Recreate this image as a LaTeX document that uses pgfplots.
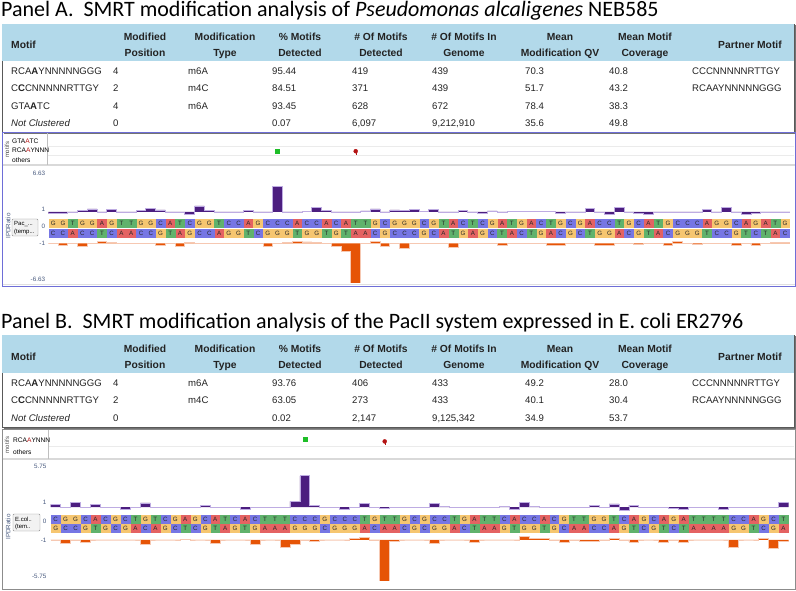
\documentclass[border=0pt]{standalone}
\usepackage{pgfplots}
\pgfplotsset{compat=1.18}
\usepackage{pgfplotstable}
\usepgfplotslibrary{fillbetween}
\usepackage{fontspec}
\setmainfont{Liberation Sans}
\newfontfamily\titlefont{Carlito}

\definecolor{cA}{RGB}{228,98,98}
\definecolor{cC}{RGB}{118,118,228}
\definecolor{cG}{RGB}{246,198,112}
\definecolor{cT}{RGB}{96,178,108}
\definecolor{pdark}{RGB}{76,30,128}
\definecolor{plight}{RGB}{190,172,226}
\definecolor{odark}{RGB}{230,84,6}
\definecolor{olight}{RGB}{246,200,178}
\definecolor{hdr}{RGB}{178,217,234}
\definecolor{tickc}{RGB}{70,88,125}
\definecolor{txt}{RGB}{35,35,35}
\definecolor{frameA}{RGB}{110,110,215}
\definecolor{frameB}{RGB}{140,140,140}
\definecolor{mgreen}{RGB}{30,190,40}
\definecolor{mred}{RGB}{180,20,20}

% ---------- sequences: cell index, base code of top strand, base code of bottom strand
% base codes: 1 = A, 2 = C, 3 = G, 4 = T
\pgfplotstableread[row sep=\\]{
i nt nb\\
0 3 2\\1 3 2\\2 4 1\\3 3 2\\4 3 2\\5 1 4\\6 3 2\\7 4 1\\8 4 1\\9 3 2\\
10 3 2\\11 2 3\\12 1 4\\13 4 1\\14 2 3\\15 3 2\\16 3 2\\17 4 1\\18 2 3\\19 2 3\\
20 1 4\\21 3 2\\22 2 3\\23 2 3\\24 2 3\\25 1 4\\26 2 3\\27 2 3\\28 1 4\\29 2 3\\
30 1 4\\31 4 1\\32 4 1\\33 3 2\\34 2 3\\35 3 2\\36 3 2\\37 3 2\\38 2 3\\39 3 2\\
40 4 1\\41 1 4\\42 2 3\\43 4 1\\44 2 3\\45 3 2\\46 1 4\\47 4 1\\48 3 2\\49 1 4\\
50 2 3\\51 4 1\\52 3 2\\53 2 3\\54 3 2\\55 1 4\\56 2 3\\57 2 3\\58 4 1\\59 3 2\\
60 2 3\\61 1 4\\62 4 1\\63 3 2\\64 2 3\\65 2 3\\66 2 3\\67 1 4\\68 3 2\\69 3 2\\
70 2 3\\71 1 4\\72 3 2\\73 1 4\\74 4 1\\75 3 2\\
}\seqA
\pgfplotstableread[row sep=\\]{
i nt nb\\
0 2 3\\1 3 2\\2 3 2\\3 2 3\\4 1 4\\5 2 3\\6 3 2\\7 2 3\\8 4 1\\9 3 2\\
10 4 1\\11 2 3\\12 3 2\\13 1 4\\14 3 2\\15 2 3\\16 1 4\\17 4 1\\18 2 3\\19 1 4\\
20 2 3\\21 4 1\\22 4 1\\23 4 1\\24 2 3\\25 2 3\\26 2 3\\27 3 2\\28 2 3\\29 2 3\\
30 2 3\\31 4 1\\32 3 2\\33 4 1\\34 4 1\\35 3 2\\36 2 3\\37 3 2\\38 2 3\\39 2 3\\
40 4 1\\41 3 2\\42 1 4\\43 4 1\\44 4 1\\45 2 3\\46 1 4\\47 2 3\\48 2 3\\49 1 4\\
50 2 3\\51 3 2\\52 4 1\\53 4 1\\54 3 2\\55 3 2\\56 4 1\\57 2 3\\58 1 4\\59 3 2\\
60 2 3\\61 1 4\\62 3 2\\63 1 4\\64 4 1\\65 4 1\\66 4 1\\67 4 1\\68 2 3\\69 2 3\\
70 1 4\\71 3 2\\72 2 3\\73 4 1\\
}\seqB

% ---------- IPD ratios (cell left edge x, top strand, bottom strand)
\pgfplotstableread[row sep=\\]{
x rt rb\\
0 0.74 1.0\\1 0.74 1.31\\2 1.0 1.0\\3 1.21 1.42\\4 1.47 1.0\\5 1.0 0.74\\6 1.36 0.84\\7 1.0 1.0\\8 1.0 1.0\\9 1.26 1.0\\
10 1.57 1.0\\11 1.31 1.31\\12 1.0 1.0\\13 0.9 1.52\\14 0.64 0.84\\15 1.94 1.0\\16 1.26 1.0\\17 1.0 1.0\\18 1.0 1.0\\19 1.0 1.0\\
20 1.26 1.0\\21 1.0 1.0\\22 1.0 1.42\\23 4.96 1.0\\24 0.95 0.84\\25 1.0 0.64\\26 1.05 0.79\\27 1.73 0.9\\28 1.21 1.0\\29 1.0 1.42\\
30 1.0 2.2\\31 0.97 7.5\\32 1.16 1.0\\33 1.47 0.64\\34 1.0 1.52\\35 1.31 1.0\\36 1.26 1.73\\37 1.42 1.0\\38 1.05 1.0\\39 1.42 1.0\\
40 1.0 1.0\\41 1.0 1.62\\42 1.26 1.0\\43 1.0 1.0\\44 0.74 1.0\\45 1.16 1.0\\46 1.0 1.31\\47 1.03 1.0\\48 1.05 1.0\\49 1.03 1.0\\
50 1.05 1.0\\51 1.03 1.36\\52 0.8 1.36\\53 1.0 1.0\\54 1.0 1.0\\55 1.57 1.0\\56 1.0 1.26\\57 0.64 1.26\\58 1.68 1.0\\59 1.0 1.0\\
60 0.74 1.1\\61 0.64 1.0\\62 1.0 1.0\\63 1.0 1.36\\64 1.0 0.69\\65 1.0 1.0\\66 0.95 1.15\\67 1.36 1.0\\68 1.0 1.0\\69 1.68 1.0\\
70 1.0 1.36\\71 0.64 1.0\\72 0.74 1.26\\73 1.0 1.0\\74 1.0 0.9\\75 1.0 0.9\\76 1.0 0.9\\
}\ipdA
\pgfplotstableread[row sep=\\]{
x rt rb\\
0 1.35 1.0\\1 1.0 1.4\\2 1.66 1.0\\3 1.0 1.26\\4 1.31 1.0\\5 0.91 1.0\\6 1.0 1.0\\7 0.69 1.0\\8 1.0 1.0\\9 1.53 1.62\\
10 1.0 1.0\\11 0.91 1.0\\12 1.0 1.0\\13 0.91 0.87\\14 1.0 1.0\\15 1.22 1.0\\16 1.0 1.4\\17 1.0 1.0\\18 1.0 1.0\\19 0.69 1.0\\
20 1.0 1.57\\21 1.0 1.0\\22 1.0 1.0\\23 1.0 1.97\\24 1.75 1.53\\25 5.1 1.0\\26 1.22 1.2\\27 1.0 1.0\\28 1.0 1.0\\29 0.69 1.0\\
30 1.0 0.78\\31 1.44 0.65\\32 0.91 1.0\\33 0.78 6.4\\34 0.91 1.13\\35 1.0 1.0\\36 1.0 1.0\\37 1.0 1.0\\38 1.44 1.44\\39 1.05 1.0\\
40 0.91 1.0\\41 1.0 1.0\\42 1.0 1.26\\43 1.0 1.0\\44 1.0 1.0\\45 1.13 1.0\\46 0.74 1.0\\47 1.57 0.52\\48 1.13 0.82\\49 1.0 0.82\\
50 1.0 1.0\\51 1.0 1.26\\52 1.0 1.0\\53 1.0 1.22\\54 1.26 1.22\\55 1.0 1.0\\56 1.4 0.82\\57 0.56 1.0\\58 1.26 1.26\\59 1.0 1.0\\
60 1.0 1.0\\61 1.0 1.3\\62 0.87 1.0\\63 0.65 1.3\\64 1.0 1.0\\65 1.0 1.0\\66 1.0 1.0\\67 0.74 1.0\\68 1.0 1.97\\69 1.0 1.0\\
70 1.0 1.0\\71 1.0 0.82\\72 1.0 2.1\\73 1.57 1.18\\74 1.57 1.18\\
}\ipdB

\pgfplotsset{
  base/.style={scale only axis, axis line style={draw=none}, tick style={draw=none},
    major tick length=0pt, xtick=\empty,
    yticklabel style={font=\fontsize{6.3}{7}\selectfont, text=tickc, inner sep=0pt, anchor=east}},
}
% #1 table, #2 column, #3 base code, #4 letter, #5 row y, #6 mark size, #7 xscale
\newcommand\cellplot[7]{%
  \addplot[only marks, mark=square*, mark size=#6, mark options={xscale=#7}, color=c#4,
    restrict expr to domain={\thisrow{#2}}{#3:#3}, nodes near coords={#4},
    every node near coord/.append style={anchor=center, font=\fontsize{6.2}{7}\selectfont, text=black!85, inner sep=0pt}]
    table[x expr=\thisrow{i}+0.5, y expr=#5]{#1};}

\newcommand\hfnt{\fontsize{10.3}{12}\selectfont\bfseries}
\newcommand\bfnt{\fontsize{9.6}{11}\selectfont}
\newcommand\hc[3]{\node[anchor=base,inner sep=0pt,font=\hfnt,text=txt] at (#1pt,#2pt) {#3};}
\newcommand\hl[3]{\node[anchor=base west,inner sep=0pt,font=\hfnt,text=txt] at (#1pt,#2pt) {#3};}
\newcommand\cl[3]{\node[anchor=base west,inner sep=0pt,font=\bfnt,text=txt] at (#1pt,#2pt) {#3};}
\newcommand\sm{\fontsize{6.6}{7}\selectfont}

\begin{document}
\begin{tikzpicture}

% ================= titles
\node[anchor=base west, inner sep=0pt, font=\titlefont\fontsize{22}{24}\selectfont] at (1pt,573pt)
  {Panel A.\ \ SMRT modification analysis of \textit{Pseudomonas alcaligenes} NEB585};
\node[anchor=base west, inner sep=0pt, font=\titlefont\fontsize{22}{24}\selectfont] at (1pt,261pt)
  {Panel B.\ \ SMRT modification analysis of the PacII system expressed in E. coli ER2796};

% ================= table A
\fill[black!55] (3.5pt,456.3pt) rectangle (795.8pt,564.5pt);
\filldraw[fill=white, draw=black!65, line width=0.8pt] (2pt,458pt) rectangle (794pt,566pt);
\fill[hdr] (2.4pt,529pt) rectangle (793.6pt,565.6pt);
\hl{11}{541.3}{Motif}
\hc{145}{549.3}{Modified}\hc{145}{533.3}{Position}
\hc{225}{549.3}{Modification}\hc{225}{533.3}{Type}
\hc{300}{549.3}{\% Motifs}\hc{300}{533.3}{Detected}
\hc{381}{549.3}{\# Of Motifs}\hc{381}{533.3}{Detected}
\hc{464}{549.3}{\# Of Motifs In}\hc{464}{533.3}{Genome}
\hc{560}{549.3}{Mean}\hc{560}{533.3}{Modification QV}
\hc{645}{549.3}{Mean Motif}\hc{645}{533.3}{Coverage}
\hc{750}{541.3}{Partner Motif}
% rows
\cl{11}{515.5}{RCA\textbf{A}YNNNNNGGG}\cl{113}{515.5}{4}\cl{188}{515.5}{m6A}\cl{272}{515.5}{95.44}\cl{352}{515.5}{419}\cl{432}{515.5}{439}\cl{525}{515.5}{70.3}\cl{609}{515.5}{40.8}\cl{692}{515.5}{CCCNNNNNRTTGY}
\cl{11}{498}{C\textbf{C}CNNNNNRTTGY}\cl{113}{498}{2}\cl{188}{498}{m4C}\cl{272}{498}{84.51}\cl{352}{498}{371}\cl{432}{498}{439}\cl{525}{498}{51.7}\cl{609}{498}{43.2}\cl{692}{498}{RCAAYNNNNNGGG}
\cl{11}{480.5}{GTA\textbf{A}TC}\cl{113}{480.5}{4}\cl{188}{480.5}{m6A}\cl{272}{480.5}{93.45}\cl{352}{480.5}{628}\cl{432}{480.5}{672}\cl{525}{480.5}{78.4}\cl{609}{480.5}{38.3}
\cl{11}{463}{\itshape Not Clustered}\cl{113}{463}{0}\cl{272}{463}{0.07}\cl{352}{463}{6,097}\cl{432}{463}{9,212,910}\cl{525}{463}{35.6}\cl{609}{463}{49.8}

% ================= table B
\fill[black!55] (3.5pt,161.3pt) rectangle (795.8pt,253.5pt);
\filldraw[fill=white, draw=black!65, line width=0.8pt] (2pt,163pt) rectangle (794pt,255pt);
\fill[hdr] (2.4pt,217pt) rectangle (793.6pt,254.6pt);
\hl{11}{229.3}{Motif}
\hc{145}{237.3}{Modified}\hc{145}{221.3}{Position}
\hc{225}{237.3}{Modification}\hc{225}{221.3}{Type}
\hc{300}{237.3}{\% Motifs}\hc{300}{221.3}{Detected}
\hc{381}{237.3}{\# Of Motifs}\hc{381}{221.3}{Detected}
\hc{464}{237.3}{\# Of Motifs In}\hc{464}{221.3}{Genome}
\hc{560}{237.3}{Mean}\hc{560}{221.3}{Modification QV}
\hc{645}{237.3}{Mean Motif}\hc{645}{221.3}{Coverage}
\hc{750}{229.3}{Partner Motif}
\cl{11}{203.9}{RCA\textbf{A}YNNNNNGGG}\cl{113}{203.9}{4}\cl{188}{203.9}{m6A}\cl{272}{203.9}{93.76}\cl{352}{203.9}{406}\cl{432}{203.9}{433}\cl{525}{203.9}{49.2}\cl{609}{203.9}{28.0}\cl{692}{203.9}{CCCNNNNNRTTGY}
\cl{11}{186.3}{C\textbf{C}CNNNNNRTTGY}\cl{113}{186.3}{2}\cl{188}{186.3}{m4C}\cl{272}{186.3}{63.05}\cl{352}{186.3}{273}\cl{432}{186.3}{433}\cl{525}{186.3}{40.1}\cl{609}{186.3}{30.4}\cl{692}{186.3}{RCAAYNNNNNGGG}
\cl{11}{168.6}{\itshape Not Clustered}\cl{113}{168.6}{0}\cl{272}{168.6}{0.02}\cl{352}{168.6}{2,147}\cl{432}{168.6}{9,125,342}\cl{525}{168.6}{34.9}\cl{609}{168.6}{53.7}

% ================= chart A frame and motif track
\draw[frameA, line width=1pt] (2pt,303pt) rectangle (795pt,457pt);
\draw[black!15, line width=1.6pt] (2.5pt,425pt) -- (794.5pt,425pt);
\draw[black!8] (47pt,444pt) -- (794pt,444pt);
\draw[black!8] (47pt,434.5pt) -- (794pt,434.5pt);
\draw[black!25] (47pt,425pt) -- (47pt,456.5pt);
\draw[black!12, line width=1pt] (2.5pt,305pt) -- (794.5pt,305pt);
\node[rotate=90, font=\fontsize{6}{7}\selectfont, text=black!70, inner sep=0pt] at (7pt,440pt) {motifs};
\node[anchor=west, font=\sm, inner sep=0pt] at (12pt,448.5pt) {GTA{\color{mred}A}TC};
\node[anchor=west, font=\sm, inner sep=0pt] at (12pt,439.3pt) {RCA{\color{mred}A}YNNN};
\node[anchor=west, font=\sm, inner sep=0pt] at (12pt,429.8pt) {others};
\node[rotate=90, font=\fontsize{6.3}{7}\selectfont, text=tickc, inner sep=0pt] at (8pt,364pt) {IPDRatio};
\draw[fill=black!5, draw=black!45, rounded corners=1pt] (12pt,354pt) rectangle (38pt,371pt);
\node[anchor=west, font=\fontsize{6}{7}\selectfont, inner sep=0pt] at (14pt,366pt) {Pac\_...};
\node[anchor=west, font=\fontsize{6}{7}\selectfont, inner sep=0pt] at (14pt,358.5pt) {(temp...};

% ================= chart B frame and motif track
\draw[frameB, line width=1pt] (2pt,1pt) rectangle (795pt,161pt);
\draw[black!15, line width=1.6pt] (2.5pt,131pt) -- (794.5pt,131pt);
\draw[black!8] (48pt,143.5pt) -- (794pt,143.5pt);
\draw[black!25] (48pt,131pt) -- (48pt,160.5pt);
\node[rotate=90, font=\fontsize{6}{7}\selectfont, text=black!70, inner sep=0pt] at (7pt,145pt) {motifs};
\node[anchor=west, font=\sm, inner sep=0pt] at (13pt,150pt) {RCA{\color{mred}A}YNNN};
\node[anchor=west, font=\sm, inner sep=0pt] at (13pt,137.7pt) {others};
\node[rotate=90, font=\fontsize{6.3}{7}\selectfont, text=tickc, inner sep=0pt] at (8pt,63pt) {IPDRatio};
\draw[fill=black!5, draw=black!45, rounded corners=1pt] (13pt,59pt) rectangle (40pt,76pt);
\node[anchor=west, font=\fontsize{6}{7}\selectfont, inner sep=0pt] at (15pt,71pt) {E.col..};
\node[anchor=west, font=\fontsize{6}{7}\selectfont, inner sep=0pt] at (15pt,63.5pt) {(tem..};

% ================= chart A axes
\begin{axis}[base, at={(48.3pt,425.3pt)}, anchor=south west, width=741.7pt, height=27.9pt,
  xmin=0, xmax=76, ymin=0, ymax=3, ytick=\empty]
\addplot[only marks, mark=square*, mark size=2pt, color=mgreen] coordinates {(23.5,1.5)};
\addplot[only marks, mark=|, mark size=2pt, color=mred, mark options={yshift=-1.5pt}] coordinates {(31.5,1.45)};
\addplot[only marks, mark=*, mark size=2pt, color=mred] coordinates {(31.5,1.45)};
\end{axis}

\begin{axis}[base, at={(48.3pt,374.5pt)}, anchor=south west, width=741.7pt, height=41.3pt,
  xmin=0, xmax=76, ymin=0.45, ymax=6.9, ytick={1,6.63}, yticklabels={1,6.63},
  yticklabel style={xshift=-3pt, yshift=3pt}]
\addplot[const plot, name path=ta, draw=plight, line width=0.9pt] table[x=x, y=rt]{\ipdA};
\addplot[draw=none, name path=ba] coordinates {(0,1) (76,1)};
\addplot[pdark] fill between[of=ta and ba];
\end{axis}

\begin{axis}[base, at={(48.3pt,352.1pt)}, anchor=south west, width=741.7pt, height=19.4pt,
  xmin=0, xmax=76, ymin=-1, ymax=1, ytick={0}, yticklabels={0}, clip=false,
  yticklabel style={xshift=-3pt, yshift=2pt}]
\cellplot{\seqA}{nt}{1}{A}{0.5}{4.2pt}{1.06}
\cellplot{\seqA}{nt}{2}{C}{0.5}{4.2pt}{1.06}
\cellplot{\seqA}{nt}{3}{G}{0.5}{4.2pt}{1.06}
\cellplot{\seqA}{nt}{4}{T}{0.5}{4.2pt}{1.06}
\cellplot{\seqA}{nb}{1}{A}{-0.5}{4.2pt}{1.06}
\cellplot{\seqA}{nb}{2}{C}{-0.5}{4.2pt}{1.06}
\cellplot{\seqA}{nb}{3}{G}{-0.5}{4.2pt}{1.06}
\cellplot{\seqA}{nb}{4}{T}{-0.5}{4.2pt}{1.06}
\end{axis}

\begin{axis}[base, at={(48.3pt,307pt)}, anchor=south west, width=741.7pt, height=43.2pt,
  xmin=0, xmax=76, ymin=0.45, ymax=7.2, y dir=reverse, ytick={1,6.63}, yticklabels={-1,-6.63},
  yticklabel style={xshift=-3pt}]
\addplot[const plot, name path=tb, draw=olight, line width=0.9pt] table[x=x, y=rb]{\ipdA};
\addplot[draw=none, name path=bb] coordinates {(0,1) (76,1)};
\addplot[odark] fill between[of=tb and bb];
\end{axis}

% ================= chart B axes
\begin{axis}[base, at={(50.7pt,132pt)}, anchor=south west, width=737.8pt, height=24.6pt,
  xmin=0, xmax=74, ymin=0, ymax=2, ytick=\empty]
\addplot[only marks, mark=square*, mark size=2pt, color=mgreen] coordinates {(25.5,1.55)};
\addplot[only marks, mark=|, mark size=2pt, color=mred, mark options={yshift=-1.5pt}] coordinates {(33.5,1.35)};
\addplot[only marks, mark=*, mark size=2pt, color=mred] coordinates {(33.5,1.35)};
\end{axis}

\begin{axis}[base, at={(50.7pt,79.2pt)}, anchor=south west, width=737.8pt, height=41.3pt,
  xmin=0, xmax=74, ymin=0.5, ymax=5.95, ytick={1,5.75}, yticklabels={1,5.75},
  yticklabel style={xshift=-4pt, yshift=4.5pt}]
\addplot[const plot, name path=tc, draw=plight, line width=0.9pt] table[x=x, y=rt]{\ipdB};
\addplot[draw=none, name path=bc] coordinates {(0,1) (74,1)};
\addplot[pdark] fill between[of=tc and bc];
\end{axis}

\begin{axis}[base, at={(50.7pt,57.15pt)}, anchor=south west, width=737.8pt, height=18.2pt,
  xmin=0, xmax=74, ymin=-1, ymax=1, ytick={0}, yticklabels={0}, clip=false,
  yticklabel style={xshift=-4pt, yshift=2pt}]
\cellplot{\seqB}{nt}{1}{A}{0.5}{3.9pt}{1.15}
\cellplot{\seqB}{nt}{2}{C}{0.5}{3.9pt}{1.15}
\cellplot{\seqB}{nt}{3}{G}{0.5}{3.9pt}{1.15}
\cellplot{\seqB}{nt}{4}{T}{0.5}{3.9pt}{1.15}
\cellplot{\seqB}{nb}{1}{A}{-0.5}{3.9pt}{1.15}
\cellplot{\seqB}{nb}{2}{C}{-0.5}{3.9pt}{1.15}
\cellplot{\seqB}{nb}{3}{G}{-0.5}{3.9pt}{1.15}
\cellplot{\seqB}{nb}{4}{T}{-0.5}{3.9pt}{1.15}
\end{axis}

\begin{axis}[base, at={(50.7pt,9.8pt)}, anchor=south west, width=737.8pt, height=44pt,
  xmin=0, xmax=74, ymin=0.5, ymax=6.3, y dir=reverse, ytick={1,5.75}, yticklabels={-1,-5.75},
  yticklabel style={xshift=-4pt}]
\addplot[const plot, name path=td, draw=olight, line width=0.9pt] table[x=x, y=rb]{\ipdB};
\addplot[draw=none, name path=bd] coordinates {(0,1) (74,1)};
\addplot[odark] fill between[of=td and bd];
\end{axis}

\pgfresetboundingbox
\useasboundingbox (0,0) rectangle (796pt,590pt);
\end{tikzpicture}
\end{document}
